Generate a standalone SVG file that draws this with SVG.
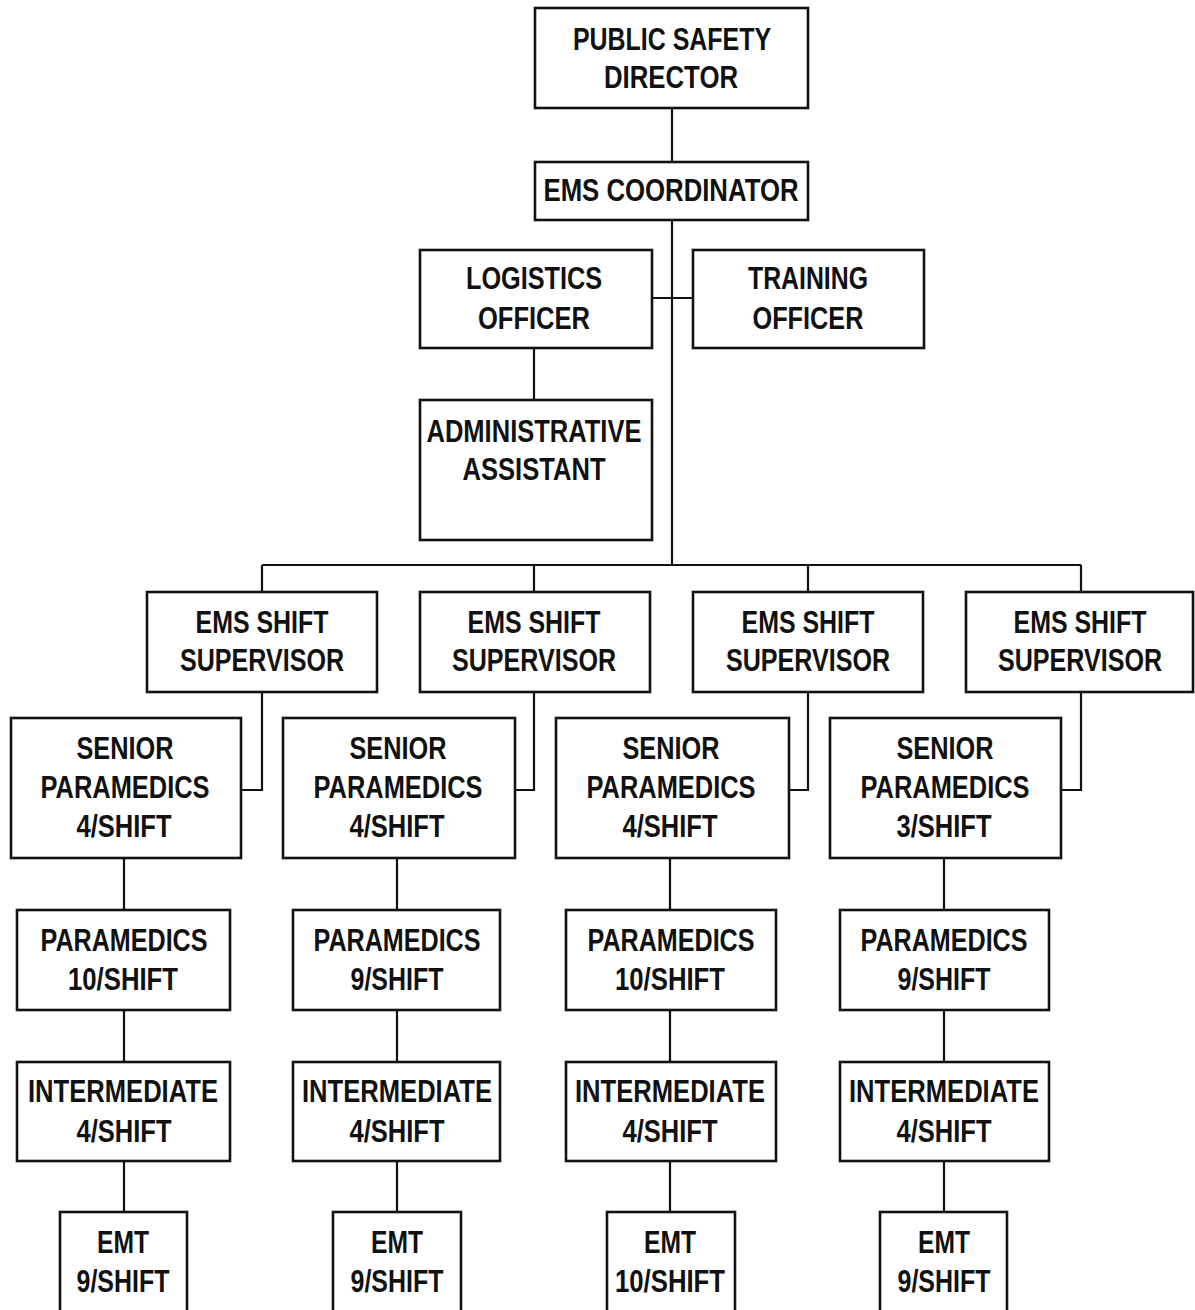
<svg xmlns="http://www.w3.org/2000/svg" width="1195" height="1310" viewBox="0 0 1195 1310">
<style>
.b{fill:#fff;stroke:#111;stroke-width:2.6}
.t{font-family:"Liberation Sans","Arial",sans-serif;font-weight:bold;font-size:32px;fill:#111;text-anchor:middle}
.c{fill:none;stroke:#111;stroke-width:2.2}
</style>
<rect width="1195" height="1310" fill="#fff"/>
<g id="connectors">
<path class="c" d="M672 108V162M672 220V565M652 298H693M534 348V400M262 565H1081M262 565V592M534 565V592M808 565V592M1081 565V592"/>
<path class="c" d="M262 692V790H241M534 692V790H515M808 692V790H789M1081 692V790H1061"/>
<path class="c" d="M124 858V910M124 1010V1062M124 1161V1212"/>
<path class="c" d="M397 858V910M397 1010V1062M397 1161V1212"/>
<path class="c" d="M670 858V910M670 1010V1062M670 1161V1212"/>
<path class="c" d="M944 858V910M944 1010V1062M944 1161V1212"/>
</g>
<g id="director"><rect class="b" x="535" y="8" width="273" height="100"/><text class="t" x="672" y="50" textLength="198" lengthAdjust="spacingAndGlyphs">PUBLIC SAFETY</text><text class="t" x="671" y="88" textLength="134" lengthAdjust="spacingAndGlyphs">DIRECTOR</text></g>
<g id="coordinator"><rect class="b" x="535" y="162" width="273" height="58"/><text class="t" x="671" y="201" textLength="255" lengthAdjust="spacingAndGlyphs">EMS COORDINATOR</text></g>
<g id="logistics"><rect class="b" x="420" y="250" width="232" height="98"/><text class="t" x="534" y="289" textLength="136" lengthAdjust="spacingAndGlyphs">LOGISTICS</text><text class="t" x="534" y="329" textLength="112" lengthAdjust="spacingAndGlyphs">OFFICER</text></g>
<g id="training"><rect class="b" x="693" y="250" width="231" height="98"/><text class="t" x="808" y="289" textLength="120" lengthAdjust="spacingAndGlyphs">TRAINING</text><text class="t" x="808" y="329" textLength="111" lengthAdjust="spacingAndGlyphs">OFFICER</text></g>
<g id="admin"><rect class="b" x="420" y="400" width="232" height="140"/><text class="t" x="534" y="442" textLength="215" lengthAdjust="spacingAndGlyphs">ADMINISTRATIVE</text><text class="t" x="534" y="480" textLength="143" lengthAdjust="spacingAndGlyphs">ASSISTANT</text></g>
<g id="sup1"><rect class="b" x="147" y="592" width="230" height="100"/><text class="t" x="262" y="633" textLength="133" lengthAdjust="spacingAndGlyphs">EMS SHIFT</text><text class="t" x="262" y="671" textLength="164" lengthAdjust="spacingAndGlyphs">SUPERVISOR</text></g>
<g id="sup2"><rect class="b" x="420" y="592" width="230" height="100"/><text class="t" x="534" y="633" textLength="133" lengthAdjust="spacingAndGlyphs">EMS SHIFT</text><text class="t" x="534" y="671" textLength="164" lengthAdjust="spacingAndGlyphs">SUPERVISOR</text></g>
<g id="sup3"><rect class="b" x="693" y="592" width="230" height="100"/><text class="t" x="808" y="633" textLength="133" lengthAdjust="spacingAndGlyphs">EMS SHIFT</text><text class="t" x="808" y="671" textLength="164" lengthAdjust="spacingAndGlyphs">SUPERVISOR</text></g>
<g id="sup4"><rect class="b" x="966" y="592" width="227" height="100"/><text class="t" x="1080" y="633" textLength="133" lengthAdjust="spacingAndGlyphs">EMS SHIFT</text><text class="t" x="1080" y="671" textLength="164" lengthAdjust="spacingAndGlyphs">SUPERVISOR</text></g>
<g id="senior1"><rect class="b" x="11" y="718" width="230" height="140"/><text class="t" x="125" y="759" textLength="97" lengthAdjust="spacingAndGlyphs">SENIOR</text><text class="t" x="125" y="798" textLength="169" lengthAdjust="spacingAndGlyphs">PARAMEDICS</text><text class="t" x="124" y="837" textLength="95" lengthAdjust="spacingAndGlyphs">4/SHIFT</text></g>
<g id="senior2"><rect class="b" x="283" y="718" width="232" height="140"/><text class="t" x="398" y="759" textLength="97" lengthAdjust="spacingAndGlyphs">SENIOR</text><text class="t" x="398" y="798" textLength="169" lengthAdjust="spacingAndGlyphs">PARAMEDICS</text><text class="t" x="397" y="837" textLength="95" lengthAdjust="spacingAndGlyphs">4/SHIFT</text></g>
<g id="senior3"><rect class="b" x="556" y="718" width="233" height="140"/><text class="t" x="671" y="759" textLength="97" lengthAdjust="spacingAndGlyphs">SENIOR</text><text class="t" x="671" y="798" textLength="169" lengthAdjust="spacingAndGlyphs">PARAMEDICS</text><text class="t" x="670" y="837" textLength="95" lengthAdjust="spacingAndGlyphs">4/SHIFT</text></g>
<g id="senior4"><rect class="b" x="830" y="718" width="231" height="140"/><text class="t" x="945" y="759" textLength="97" lengthAdjust="spacingAndGlyphs">SENIOR</text><text class="t" x="945" y="798" textLength="169" lengthAdjust="spacingAndGlyphs">PARAMEDICS</text><text class="t" x="944" y="837" textLength="95" lengthAdjust="spacingAndGlyphs">3/SHIFT</text></g>
<g id="para1"><rect class="b" x="17" y="910" width="213" height="100"/><text class="t" x="124" y="951" textLength="167" lengthAdjust="spacingAndGlyphs">PARAMEDICS</text><text class="t" x="123" y="990" textLength="110" lengthAdjust="spacingAndGlyphs">10/SHIFT</text></g>
<g id="para2"><rect class="b" x="293" y="910" width="207" height="100"/><text class="t" x="397" y="951" textLength="167" lengthAdjust="spacingAndGlyphs">PARAMEDICS</text><text class="t" x="397" y="990" textLength="93" lengthAdjust="spacingAndGlyphs">9/SHIFT</text></g>
<g id="para3"><rect class="b" x="566" y="910" width="210" height="100"/><text class="t" x="671" y="951" textLength="167" lengthAdjust="spacingAndGlyphs">PARAMEDICS</text><text class="t" x="670" y="990" textLength="110" lengthAdjust="spacingAndGlyphs">10/SHIFT</text></g>
<g id="para4"><rect class="b" x="840" y="910" width="209" height="100"/><text class="t" x="944" y="951" textLength="167" lengthAdjust="spacingAndGlyphs">PARAMEDICS</text><text class="t" x="944" y="990" textLength="93" lengthAdjust="spacingAndGlyphs">9/SHIFT</text></g>
<g id="inter1"><rect class="b" x="17" y="1062" width="213" height="99"/><text class="t" x="123" y="1102" textLength="190" lengthAdjust="spacingAndGlyphs">INTERMEDIATE</text><text class="t" x="124" y="1142" textLength="95" lengthAdjust="spacingAndGlyphs">4/SHIFT</text></g>
<g id="inter2"><rect class="b" x="293" y="1062" width="207" height="99"/><text class="t" x="397" y="1102" textLength="190" lengthAdjust="spacingAndGlyphs">INTERMEDIATE</text><text class="t" x="397" y="1142" textLength="95" lengthAdjust="spacingAndGlyphs">4/SHIFT</text></g>
<g id="inter3"><rect class="b" x="566" y="1062" width="210" height="99"/><text class="t" x="670" y="1102" textLength="190" lengthAdjust="spacingAndGlyphs">INTERMEDIATE</text><text class="t" x="670" y="1142" textLength="95" lengthAdjust="spacingAndGlyphs">4/SHIFT</text></g>
<g id="inter4"><rect class="b" x="840" y="1062" width="209" height="99"/><text class="t" x="944" y="1102" textLength="190" lengthAdjust="spacingAndGlyphs">INTERMEDIATE</text><text class="t" x="944" y="1142" textLength="95" lengthAdjust="spacingAndGlyphs">4/SHIFT</text></g>
<g id="emt1"><rect class="b" x="60" y="1212" width="127" height="120"/><text class="t" x="123" y="1253" textLength="52" lengthAdjust="spacingAndGlyphs">EMT</text><text class="t" x="123" y="1292" textLength="93" lengthAdjust="spacingAndGlyphs">9/SHIFT</text></g>
<g id="emt2"><rect class="b" x="333" y="1212" width="128" height="120"/><text class="t" x="397" y="1253" textLength="52" lengthAdjust="spacingAndGlyphs">EMT</text><text class="t" x="397" y="1292" textLength="93" lengthAdjust="spacingAndGlyphs">9/SHIFT</text></g>
<g id="emt3"><rect class="b" x="607" y="1212" width="128" height="120"/><text class="t" x="670" y="1253" textLength="52" lengthAdjust="spacingAndGlyphs">EMT</text><text class="t" x="670" y="1292" textLength="110" lengthAdjust="spacingAndGlyphs">10/SHIFT</text></g>
<g id="emt4"><rect class="b" x="880" y="1212" width="127" height="120"/><text class="t" x="944" y="1253" textLength="52" lengthAdjust="spacingAndGlyphs">EMT</text><text class="t" x="944" y="1292" textLength="93" lengthAdjust="spacingAndGlyphs">9/SHIFT</text></g>
</svg>
